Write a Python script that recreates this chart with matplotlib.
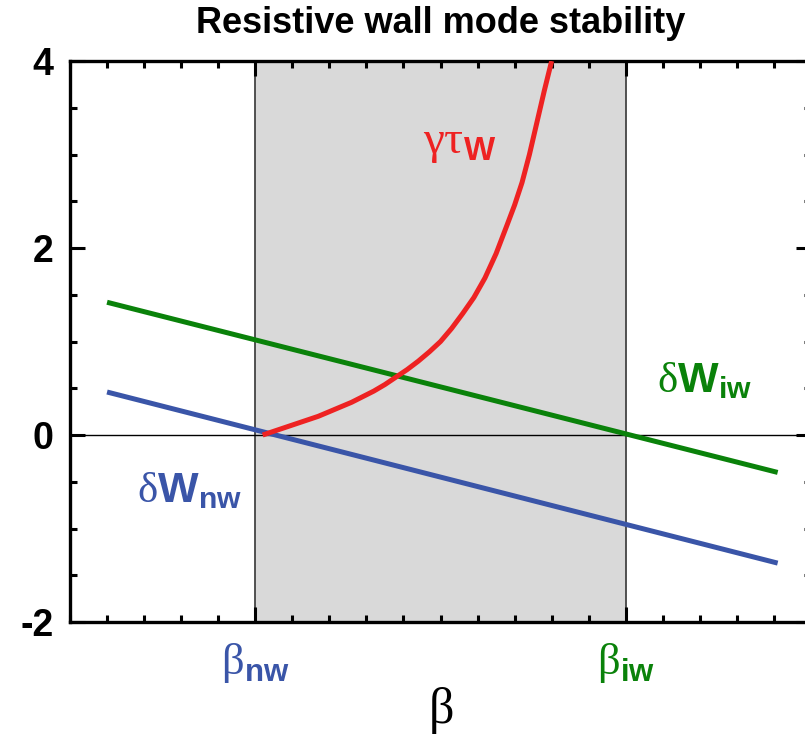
import matplotlib
matplotlib.use("Agg")
import matplotlib.pyplot as plt
from matplotlib.ticker import MultipleLocator, FixedLocator

plt.rcParams['mathtext.fontset'] = 'custom'
plt.rcParams['mathtext.rm'] = 'Liberation Serif'
plt.rcParams['mathtext.sf'] = 'Liberation Sans:bold'
plt.rcParams['mathtext.bf'] = 'Liberation Sans:bold'

# Energy of the no-wall and ideal-wall kinks vs beta
beta_ends = [1.0, 19.1]
dW_nw = [0.46, -1.37]
dW_iw = [1.42, -0.40]

# Growth rate normalised to wall time, between the two limits
beta_growth = [5.2, 5.5, 5.8, 6.1, 6.4, 6.7, 7.0, 7.3, 7.6, 7.9, 8.2, 8.5,
               8.8, 9.1, 9.4, 9.7, 10.0, 10.3, 10.6, 10.9, 11.2, 11.5, 11.8,
               12.0, 12.2, 12.4, 12.6, 12.8, 13.0]
gamma_tau = [0.00, 0.04, 0.08, 0.12, 0.16, 0.20, 0.25, 0.30, 0.35, 0.41, 0.47,
             0.54, 0.62, 0.70, 0.79, 0.89, 1.00, 1.14, 1.30, 1.47, 1.68, 1.94,
             2.25, 2.46, 2.70, 3.00, 3.34, 3.68, 4.0]

beta_nw, beta_iw = 5.0, 15.0
beta_ticks = [beta_nw, beta_iw]
beta_tick_labels = [r'$\mathrm{\beta}_{\mathsf{nw}}$', r'$\mathrm{\beta}_{\mathsf{iw}}$']
y_ticks = [-2, 0, 2, 4]

RED = '#ee2222'
GREEN = '#0a820a'
BLUE = '#3a55a8'

fig = plt.figure(figsize=(8.05, 7.39), dpi=100)
ax = fig.add_axes([0.08696, 0.1583, 0.9205, 0.7591])

ax.axvspan(beta_nw, beta_iw, color='#d9d9d9', zorder=0, lw=0)
for b in beta_ticks:
    ax.axvline(b, color='#444444', lw=1.3, zorder=1)
ax.axhline(0, color='black', lw=1.0, zorder=1)

ax.plot(beta_ends, dW_iw, color=GREEN, lw=3.6, solid_capstyle='butt', zorder=3)
ax.plot(beta_ends, dW_nw, color=BLUE, lw=3.6, solid_capstyle='butt', zorder=2)
ax.plot(beta_growth, gamma_tau, color=RED, lw=3.6, solid_capstyle='butt',
        solid_joinstyle='round', zorder=4)

ax.set_xlim(0, 20)
ax.set_ylim(-2, 4)

ax.text(10.53, 3.13, r'$\mathrm{\gamma\tau}_{\mathsf{W}}$', color=RED, fontsize=34,
        ha='center', va='center')
ax.text(17.14, 0.59, r'$\mathrm{\delta}\mathsf{W}_{\mathsf{iw}}$', color=GREEN, fontsize=31,
        ha='center', va='center')
ax.text(3.24, -0.59, r'$\mathrm{\delta}\mathsf{W}_{\mathsf{nw}}$', color=BLUE, fontsize=31,
        ha='center', va='center')

ax.xaxis.set_major_locator(FixedLocator(beta_ticks))
ax.xaxis.set_minor_locator(MultipleLocator(1))
ax.set_xticklabels(beta_tick_labels, fontsize=32)
for lbl, c in zip(ax.get_xticklabels(), [BLUE, GREEN]):
    lbl.set_color(c)

ax.yaxis.set_major_locator(FixedLocator(y_ticks))
ax.yaxis.set_minor_locator(MultipleLocator(0.5))
ax.set_yticklabels([str(v) for v in y_ticks], fontsize=27,
                   fontfamily='Liberation Sans', fontweight='bold')

ax.tick_params(which='both', direction='in', top=True, right=True, width=2.2)
ax.tick_params(which='major', length=11)
ax.tick_params(axis='y', which='major', pad=12)
ax.tick_params(axis='x', which='major', pad=14)
ax.tick_params(which='minor', length=5)
for s in ax.spines.values():
    s.set_linewidth(2.4)

ax.set_xlabel(r'$\mathrm{\beta}$', fontsize=36, labelpad=0)
ax.set_title('Resistive wall mode stability', fontsize=26, fontweight='bold',
             fontfamily='Liberation Sans', x=(441 - 70) / 741, pad=20)

fig.savefig('out.png', dpi=100)
